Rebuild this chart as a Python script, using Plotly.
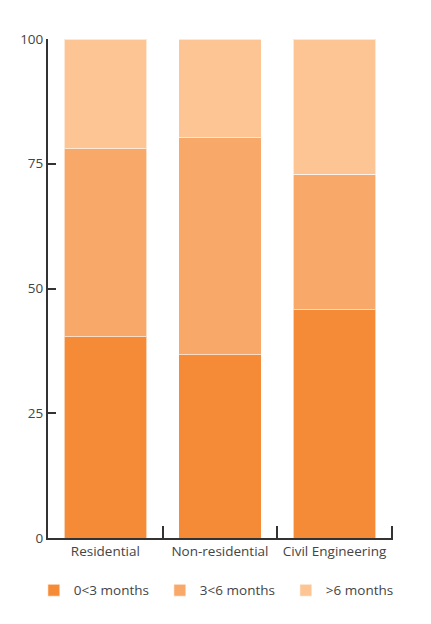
import plotly.graph_objects as go

categories = ["Residential", "Non-residential", "Civil Engineering"]
series_names = ["0<3 months", "3<6 months", ">6 months"]
short_term = [40.3, 36.7, 45.7]
mid_term = [37.7, 43.5, 27.2]
long_term = [22.0, 19.8, 27.1]
colors = ["#F68B37", "#F8A868", "#FCC593"]
y_ticks = [0, 25, 50, 75, 100]

fig = go.Figure()
for name, vals, col in zip(series_names, [short_term, mid_term, long_term], colors):
    fig.add_trace(go.Bar(
        x=categories, y=vals, name=name,
        marker=dict(color=col, line=dict(color="rgba(255,255,255,0.6)", width=1)),
        width=0.72,
    ))

axis_font = dict(family="Open Sans, sans-serif", size=13.5, color="#444444")
fig.update_layout(
    barmode="stack",
    width=423, height=616,
    margin=dict(l=40, r=38, t=31, b=86, autoexpand=False),
    plot_bgcolor="white", paper_bgcolor="white",
    font=axis_font,
    showlegend=True,
    legend=dict(orientation="h", x=-0.041, xanchor="left", y=-0.074, yanchor="top",
                entrywidth=81, entrywidthmode="pixels",
                font=axis_font, traceorder="normal"),
    xaxis=dict(showline=True, linecolor="#333333", linewidth=2,
               ticks="inside", tickson="boundaries", ticklen=12, tickwidth=2,
               tickcolor="#333333", range=[-0.5, 2.51], tickfont=axis_font,
               showgrid=False),
    yaxis=dict(showline=True, linecolor="#333333", linewidth=2,
               ticks="inside", ticklen=8, tickwidth=2, tickcolor="#333333",
               range=[0, 100], tickvals=y_ticks, showgrid=False, zeroline=False,
               tickfont=axis_font, ticklabelstandoff=0),
)

fig.write_html("out.html")
